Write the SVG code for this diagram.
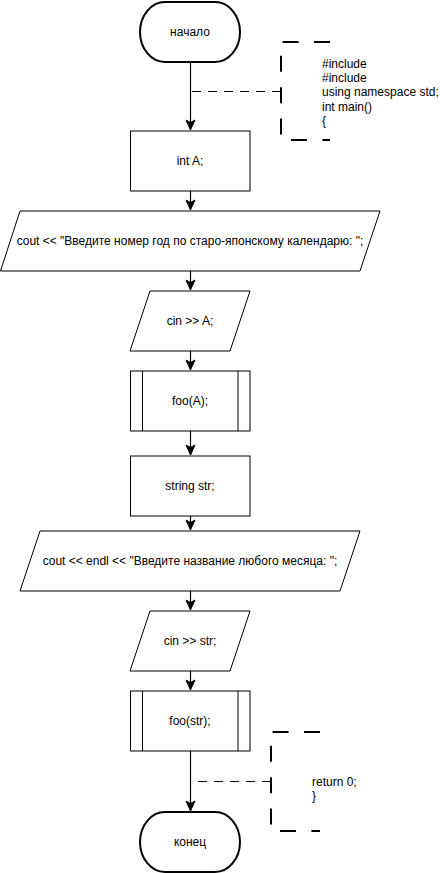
<svg xmlns="http://www.w3.org/2000/svg" width="440" height="873" viewBox="0 0 440 873">
<defs>
<marker id="arr" markerUnits="userSpaceOnUse" markerWidth="12" markerHeight="12" viewBox="-6 -11 12 12" refX="0" refY="0" orient="auto-start-reverse" overflow="visible">
<path d="M0,0 L-4.5,-10 L0,-7.5 L4.5,-10 Z" transform="rotate(-90)" fill="#000" stroke="#000" stroke-width="1"/>
</marker>
<style>
.t{font-family:"Liberation Sans",Arial,sans-serif;font-size:12px;fill:#000;}
.c{text-anchor:middle;}
.sh{fill:#fff;stroke:#000;stroke-width:1;}
.term{fill:#fff;stroke:#000;stroke-width:2;}
.ln{fill:none;stroke:#000;stroke-width:1.2;}
.dl{fill:none;stroke:#000;stroke-width:1;stroke-dasharray:9 7;}
.br{fill:none;stroke:#000;stroke-width:2;stroke-dasharray:16 15.4;}
</style>
</defs>
<rect width="440" height="873" fill="#fff"/>
<g id="connectors">
<path class="ln" d="M190.5,62 L190.5,130" marker-end="url(#arr)"/>
<path class="ln" d="M190.5,191 L190.5,210" marker-end="url(#arr)"/>
<path class="ln" d="M190.5,271 L190.5,290" marker-end="url(#arr)"/>
<path class="ln" d="M190.5,351 L190.5,370" marker-end="url(#arr)"/>
<path class="ln" d="M190.5,431 L190.5,455" marker-end="url(#arr)"/>
<path class="ln" d="M190.5,516 L190.5,530" marker-end="url(#arr)"/>
<path class="ln" d="M190.5,591 L190.5,610" marker-end="url(#arr)"/>
<path class="ln" d="M190.5,671 L190.5,690" marker-end="url(#arr)"/>
<path class="ln" d="M190.5,751 L190.5,811" marker-end="url(#arr)"/>
<path class="dl" d="M281,91.5 L191,91.5"/>
<path class="dl" d="M271,781.5 L198,781.5"/>
</g>
<g id="start">
<path class="term" d="M165,2 L215,2 A25,30 0 0 1 215,62 L165,62 A25,30 0 0 1 165,2 Z"/>
<text class="t c" x="190" y="36">начало</text>
</g>
<g id="note1">
<path class="br" d="M330,42 L281,42 L281,140 L330,140"/>
<text class="t" x="322" y="67.5">#include</text>
<text class="t" x="322" y="81.9">#include</text>
<text class="t" x="322" y="96.3">using namespace std;</text>
<text class="t" x="322" y="110.7">int main()</text>
<text class="t" x="322" y="125.1">{</text>
</g>
<g id="intA">
<rect class="sh" x="130.5" y="131" width="119.5" height="60"/>
<text class="t c" x="190" y="165">int A;</text>
</g>
<g id="out1">
<path class="sh" d="M20,211 L380,211 L360,271 L0.5,271 Z"/>
<text class="t c" x="190" y="245">cout &lt;&lt; "Введите номер год по старо-японскому календарю: ";</text>
</g>
<g id="inA">
<path class="sh" d="M150,291 L250,291 L230,351 L130,351 Z"/>
<text class="t c" x="190" y="325">cin &gt;&gt; A;</text>
</g>
<g id="fooA">
<rect class="sh" x="130.5" y="371" width="119.5" height="60"/>
<line class="sh" x1="142.5" y1="371" x2="142.5" y2="431"/>
<line class="sh" x1="238" y1="371" x2="238" y2="431"/>
<text class="t c" x="190" y="405">foo(A);</text>
</g>
<g id="strdecl">
<rect class="sh" x="130.5" y="456" width="119.5" height="60"/>
<text class="t c" x="190" y="490">string str;</text>
</g>
<g id="out2">
<path class="sh" d="M40,531 L360,531 L340,591 L20,591 Z"/>
<text class="t c" x="190" y="565">cout &lt;&lt; endl &lt;&lt; "Введите название любого месяца: ";</text>
</g>
<g id="inStr">
<path class="sh" d="M150,611 L250,611 L230,671 L130,671 Z"/>
<text class="t c" x="190" y="645">cin &gt;&gt; str;</text>
</g>
<g id="fooStr">
<rect class="sh" x="130.5" y="691" width="119.5" height="60"/>
<line class="sh" x1="142.5" y1="691" x2="142.5" y2="751"/>
<line class="sh" x1="238" y1="691" x2="238" y2="751"/>
<text class="t c" x="190" y="725">foo(str);</text>
</g>
<g id="note2">
<path class="br" d="M320,732 L271,732 L271,831 L320,831"/>
<text class="t" x="312" y="786">return 0;</text>
<text class="t" x="312" y="800.4">}</text>
</g>
<g id="end">
<path class="term" d="M165,812 L215,812 A25,30 0 0 1 215,872 L165,872 A25,30 0 0 1 165,812 Z"/>
<text class="t c" x="190" y="846">конец</text>
</g>
</svg>
